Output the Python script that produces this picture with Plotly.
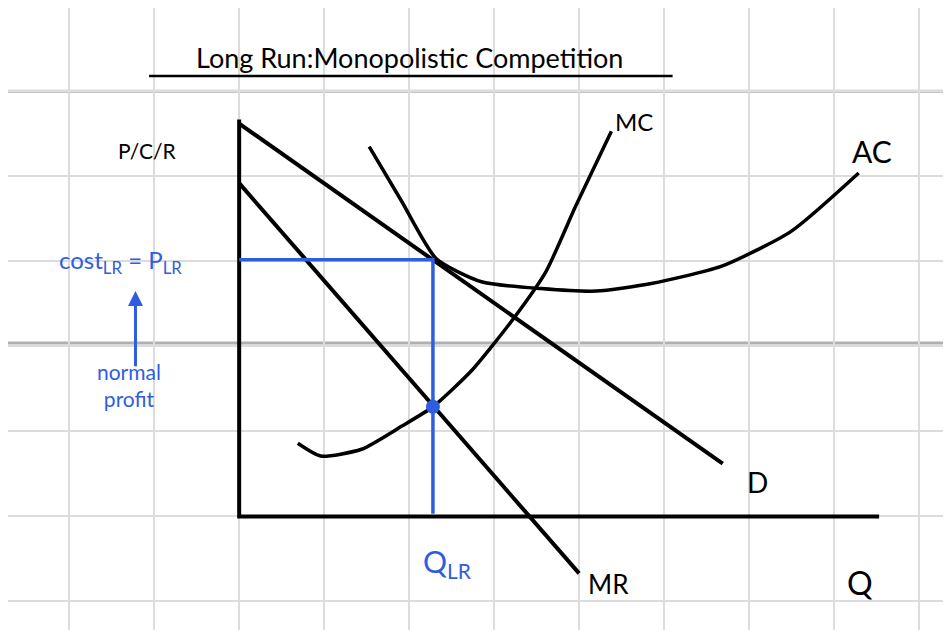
import plotly.graph_objects as go

# Economic units (grid squares)
d_q = [0, 5.69]; d_p = [4.62, 0.62]
mr_q = [0, 4.0]; mr_p = [3.92, -0.67]
mc_q = [0.69, 0.96, 1.44, 1.91, 2.28, 2.73, 3.2, 3.61, 3.96, 4.38]
mc_p = [0.86, 0.71, 0.79, 1.06, 1.29, 1.71, 2.29, 2.88, 3.65, 4.53]
ac_q = [1.53, 1.91, 2.32, 2.85, 3.55, 4.2, 4.85, 5.67, 6.49, 7.29]
ac_p = [4.35, 3.71, 3.03, 2.76, 2.68, 2.65, 2.74, 2.94, 3.35, 4.04]
q_lr = 2.28; p_lr = 3.02; mc_at_q = 1.29

blk = dict(color="black", width=4)
blue = "#2f5de0"
fig = go.Figure()
fig.add_trace(go.Scatter(x=[0, 0, 7.53], y=[4.67, 0, 0], mode="lines", line=blk))
fig.add_trace(go.Scatter(x=d_q, y=d_p, mode="lines", line=blk))
fig.add_trace(go.Scatter(x=mr_q, y=mr_p, mode="lines", line=blk))
fig.add_trace(go.Scatter(x=mc_q, y=mc_p, mode="lines", line=dict(color="black", width=3.5, shape="spline", smoothing=0.6)))
fig.add_trace(go.Scatter(x=ac_q, y=ac_p, mode="lines", line=dict(color="black", width=3.5, shape="spline", smoothing=0.6)))
fig.add_trace(go.Scatter(x=[0, q_lr, q_lr], y=[p_lr, p_lr, 0.03], mode="lines", line=dict(color=blue, width=3.5)))
fig.add_trace(go.Scatter(x=[q_lr], y=[mc_at_q], mode="markers", marker=dict(color=blue, size=14)))

fig.add_shape(type="line", xref="paper", x0=0, x1=1, y0=5.0, y1=5.0, line=dict(color="#b0b0b0", width=3), layer="below")
fig.add_shape(type="line", xref="paper", x0=0, x1=1, y0=2.04, y1=2.04, line=dict(color="#b0b0b0", width=3), layer="below")
fig.add_shape(type="line", x0=-1.06, x1=5.1, y0=5.18, y1=5.18, line=dict(color="black", width=2.5))

F = "Lato"
def ann(x, y, t, size=22, color="black"):
    fig.add_annotation(x=x, y=y, text=t, showarrow=False, font=dict(family=F, size=size, color=color))
ann(2.0, 5.4, "Long Run:Monopolistic Competition", 27)
ann(-1.08, 4.3, "P/C/R", 21)
ann(4.65, 4.65, "MC", 24)
ann(7.45, 4.3, "AC", 30)
ann(6.1, 0.4, "D", 28)
ann(4.35, -0.8, "MR", 26)
ann(7.3, -0.78, "Q", 32)
ann(2.45, -0.55, "Q<sub>LR</sub>", 30, blue)
ann(-1.4, 3.0, "cost<sub>LR</sub> = P<sub>LR</sub>", 24, blue)
ann(-1.3, 1.55, "normal<br>profit", 21, blue)
fig.add_annotation(x=-1.22, y=2.65, ax=-1.22, ay=1.75, xref="x", yref="y", axref="x", ayref="y",
                   text="", showarrow=True, arrowhead=2, arrowwidth=3, arrowcolor=blue)

ax = dict(dtick=1, tick0=0, showgrid=True, gridcolor="#dcdcdc", gridwidth=1.5,
          zeroline=False, showticklabels=False, ticks="")
fig.update_layout(width=951, height=630, margin=dict(l=0, r=0, t=0, b=0),
                  plot_bgcolor="white", paper_bgcolor="white", showlegend=False,
                  xaxis=dict(range=[-2.72, 8.47], **ax), yaxis=dict(range=[-1.43, 5.98], **ax))
fig.write_html("out.html")
